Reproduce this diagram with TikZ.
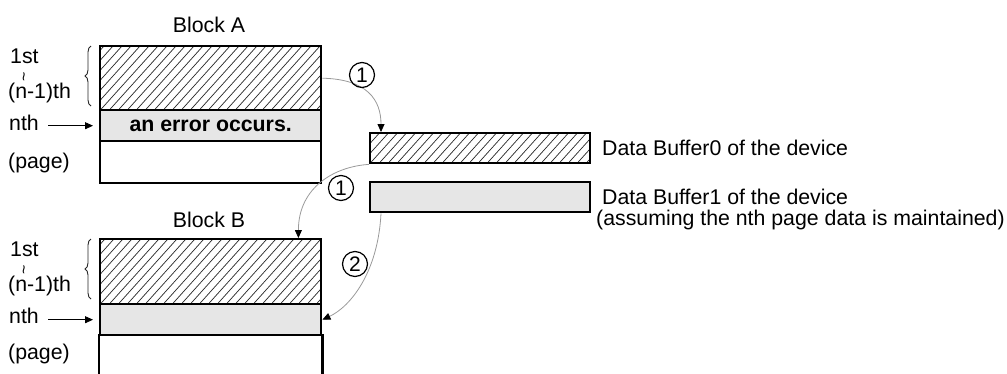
\documentclass[tikz,border=0pt]{standalone}
\usepackage{fontspec}
\setmainfont{Liberation Sans}
\usetikzlibrary{arrows.meta,decorations.pathreplacing}
\definecolor{cellgray}{HTML}{E6E6E6}
\definecolor{flowgray}{HTML}{9A9A9A}
\tikzset{
  txt/.style={font=\fontsize{21.3}{24}\selectfont, inner sep=0pt},
  cell/.style={draw, line width=2.4pt, inner sep=0pt, minimum width=221pt, anchor=north west},
  hatch/.style={path picture={
      \foreach \i in {-10,...,28}{
        \draw[line width=0.7pt, black!85] ([xshift=\i*9pt]path picture bounding box.south west) -- ++(48:120pt);}}},
  grayfill/.style={fill=cellgray},
  flow/.style={draw=flowgray, line width=0.8pt, -{Triangle[length=8pt,width=7pt,color=black]}},
  pointer/.style={line width=0.9pt, -{Triangle[length=8pt,width=7pt]}},
  numc/.style={draw, circle, line width=1.2pt, minimum size=25pt, inner sep=0pt, font=\fontsize{21}{22}\selectfont},
  curly/.style={decorate, decoration={brace, amplitude=6pt}, line width=0.9pt, draw=black!85},
  wave/.style={inner sep=0pt, rotate=90, font=\fontsize{16}{17}\selectfont}
}
\begin{document}
\begin{tikzpicture}[x=1pt, y=-1pt]
\useasboundingbox (0,0) rectangle (1007,373);

% Block A
\node[txt] (titleA) at (209,24.5) {Block A};
\node[cell, hatch, minimum height=64pt] (Ahatch) at (99,45) {};
\node[cell, grayfill, minimum height=31pt, txt, font=\fontsize{21.3}{24}\selectfont\bfseries] (Agray) at (99,109) {an error occurs.};
\node[cell, minimum height=42pt] (Awhite) at (99,140) {};

\node[txt, anchor=base west] (A1st) at (10,63) {1st};
\node[wave] (Atil) at (26,77) {\char"007E};
\node[txt, anchor=base west] (An1) at (8,98) {(n-1)th};
\node[txt, anchor=base west] (Anth) at (9,130) {nth};
\node[txt, anchor=base west] (Apage) at (8,168) {(page)};
\coordinate (AbraceB) at (91,106);
\coordinate (AbraceT) at (91,46);
\draw[curly] (AbraceB) -- (AbraceT);
\draw[pointer, shorten <=9pt, shorten >=6pt] (Anth.east |- Agray.west) -- (Agray.west);

% Block B
\node[txt] (titleB) at (209,220) {Block B};
\node[cell, hatch, minimum height=65pt] (Bhatch) at (99,238) {};
\node[cell, grayfill, minimum height=31pt] (Bgray) at (99,303) {};
\node[cell, draw=none, minimum height=39pt] (Bwhite) at (99,334) {};
\draw[line width=2.4pt] (Bwhite.north west) -- (Bwhite.south west);
\draw[line width=2.4pt] (Bwhite.north east) -- (Bwhite.south east);

\node[txt, anchor=base west] (B1st) at (10,256) {1st};
\node[wave] (Btil) at (26,270) {\char"007E};
\node[txt, anchor=base west] (Bn1) at (8,291) {(n-1)th};
\node[txt, anchor=base west] (Bnth) at (9,323) {nth};
\node[txt, anchor=base west] (Bpage) at (8,359) {(page)};
\coordinate (BbraceB) at (91,299);
\coordinate (BbraceT) at (91,239);
\draw[curly] (BbraceB) -- (BbraceT);
\draw[pointer, shorten <=9pt, shorten >=6pt] (Bnth.east |- Bgray.west) -- (Bgray.west);

% Buffers
\node[cell, hatch, minimum width=220pt, minimum height=30pt] (buf0) at (369,132) {};
\node[cell, grayfill, minimum width=220pt, minimum height=30pt] (buf1) at (369,181) {};
\node[txt, anchor=base west] (lbl0) at (602,155) {Data Buffer0 of the device};
\node[txt, anchor=base west] (lbl1) at (602,204) {Data Buffer1 of the device};
\node[txt, anchor=base west] (lbl2) at (596,225) {(assuming the nth page data is maintained)};

% flows
\draw[flow] (Ahatch.east) .. controls +(45,1) and +(0,-32) .. ([xshift=12pt]buf0.north west);
\draw[flow] (buf0.south west) .. controls +(-34,2) and +(0,-51) .. ([xshift=-24pt]Bhatch.north east);
\draw[flow] ([xshift=12pt]buf1.south west) .. controls +(-3,59) and +(28,-13) .. (Bgray.east);

\node[numc] (n1a) at (362,75) {1};
\node[numc] (n1b) at (341,188) {1};
\node[numc] (n2) at (355,264) {2};
\end{tikzpicture}
\end{document}
